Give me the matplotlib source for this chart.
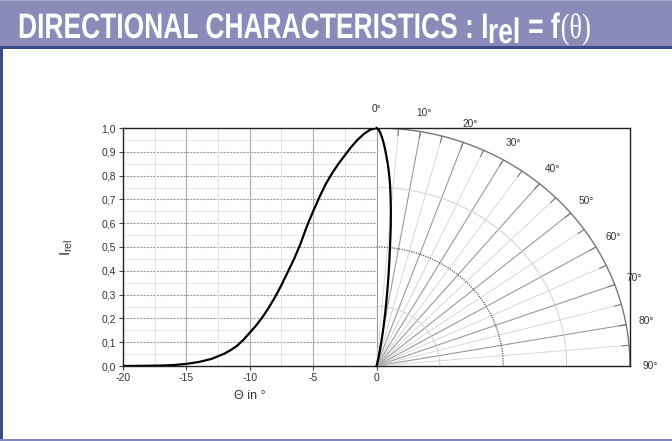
import matplotlib
matplotlib.use("Agg")
import matplotlib.pyplot as plt
import numpy as np
from matplotlib.patches import Rectangle
from matplotlib.patheffects import AbstractPathEffect
from matplotlib.transforms import Affine2D

plt.rcParams['font.family'] = ['Liberation Sans', 'DejaVu Sans']
plt.rcParams['mathtext.fontset'] = 'custom'
plt.rcParams['mathtext.rm'] = 'Liberation Sans'
plt.rcParams['mathtext.it'] = 'Liberation Sans:italic'

# ---------------- data ----------------
theta_deg = [-20, -18, -17, -16, -15, -14, -13, -12, -11.5, -11, -10.5, -10, -9.5, -9,
             -8.5, -8, -7.5, -7, -6.5, -6, -5.5, -5, -4.5, -4, -3.5, -3, -2.5, -2,
             -1.5, -1, -0.5, 0]
i_rel = [0.0, 0.001, 0.002, 0.004, 0.009, 0.017, 0.03, 0.052, 0.067, 0.085, 0.11, 0.14,
         0.17, 0.205, 0.245, 0.29, 0.34, 0.395, 0.45, 0.513, 0.586, 0.65, 0.71, 0.765,
         0.81, 0.85, 0.885, 0.92, 0.95, 0.975, 0.993, 1.0]

y_ticks = [0.0, 0.1, 0.2, 0.3, 0.4, 0.5, 0.6, 0.7, 0.8, 0.9, 1.0]
y_tick_labels = ['0,0', '0,1', '0,2', '0,3', '0,4', '0,5', '0,6', '0,7', '0,8', '0,9', '1,0']
y_minor = [0.05, 0.15, 0.25, 0.35, 0.45, 0.55, 0.65, 0.75, 0.85, 0.95]
x_ticks = [-20, -15, -10, -5, 0]
x_tick_labels = ['-20', '-15', '-10', '-5', '0']
x_minor = [-17.5, -12.5, -7.5, -2.5]
angle_labels = [0, 10, 20, 30, 40, 50, 60, 70, 80, 90]
radial_angles = [5, 10, 15, 20, 25, 30, 35, 40, 45, 50, 55, 60, 65, 70, 75, 80, 85]
arc_radii_light = [0.25, 0.75]
arc_radius_mid = 0.5

title_main = "DIRECTIONAL CHARACTERISTICS : I"
title_sub = "rel"
title_eq = "= f"
title_arg = "(θ)"
x_label = "Θ in °"
y_label = r"$\mathrm{I}_{\mathrm{rel}}$"

# ---------------- figure ----------------
W, H = 672, 441
fig = plt.figure(figsize=(W / 100, H / 100), dpi=100)
fig.patch.set_facecolor('white')


def frect(px, py, pw, ph, color):
    fig.add_artist(Rectangle((px / W, 1 - (py + ph) / H), pw / W, ph / H,
                             transform=fig.transFigure, facecolor=color,
                             edgecolor='none', zorder=0))


frect(0, 0, W, 47, '#8b8bb9')
frect(0, 0, W, 1, '#a9a9cc')
frect(0, 46.5, W, 2.5, '#3b4a8b')
frect(0, 47, 3, H - 47, '#3b4a8b')
frect(0, 438.5, W, 2.5, '#7f86bd')

# ---------------- axes ----------------
ax = fig.add_axes([123 / W, 75 / H, 507 / W, 238 / H])
ax.set_xlim(-20, 20)
ax.set_ylim(0, 1)
for s in ax.spines.values():
    s.set_color('#222222')
    s.set_linewidth(1.0)
ax.set_xticks(x_ticks, x_tick_labels)
ax.set_yticks(y_ticks, y_tick_labels)
ax.tick_params(direction='out', length=3, width=0.8, color='#444444',
               labelsize=7.5, labelcolor='#333333', pad=2)

# cartesian grid (left half only)
ax.hlines(y_minor, -20, 0, color='#e3e3e3', lw=0.6, zorder=1)
ax.hlines(y_ticks[1:-1], -20, 0, color='#9c9c9c', lw=0.8, linestyles=(0, (2, 1)), zorder=1)
ax.vlines(x_minor, 0, 1, color='#dedede', lw=0.6, zorder=1)
ax.vlines(x_ticks[1:-1], 0, 1, color='#acacac', lw=0.8, zorder=1)
ax.vlines([0], 0, 1, color='#999999', lw=0.8, zorder=1)

# polar grid (right half; x scaled by 20)
for a in radial_angles:
    t = np.radians(a)
    dark = (a % 10 == 0)
    ax.plot([0, 20 * np.sin(t)], [0, np.cos(t)],
            color='#9a9a9a' if dark else '#d2d2d2', lw=0.8 if dark else 0.6, zorder=1)
phi = np.linspace(0, np.pi / 2, 300)
for r in arc_radii_light:
    ax.plot(20 * r * np.sin(phi), r * np.cos(phi), color='#d0d0d0', lw=0.7, zorder=1)
ax.plot(20 * arc_radius_mid * np.sin(phi), arc_radius_mid * np.cos(phi),
        color='#555555', lw=0.9, ls=(0, (1, 1)), zorder=1)
ax.plot(20 * np.sin(phi), np.cos(phi), color='#777777', lw=1.0, zorder=2)
for a in radial_angles:
    t = np.radians(a)
    ax.plot([20 * 0.972 * np.sin(t), 20 * np.sin(t)], [0.972 * np.cos(t), np.cos(t)],
            color='#777777', lw=0.8, zorder=2)

for a in angle_labels:
    t = np.radians(a)
    ax.text(20 * 1.08 * np.sin(t), 1.08 * np.cos(t), f"{a}°", ha='center', va='center',
            fontsize=7.3, color='#333333', clip_on=False)

# curves
ax.plot(theta_deg, i_rel, color='black', lw=1.6, zorder=4, solid_joinstyle='round')
th = np.radians(-np.array(theta_deg))
rr = np.array(i_rel)
ax.plot(20 * rr * np.sin(th), rr * np.cos(th), color='black', lw=1.6, zorder=4,
        solid_joinstyle='round', clip_on=False)

# labels
ax.text(-10, -0.126, x_label, ha='center', va='center', fontsize=9, color='#333333')
ax.text(-24.4, 0.5, y_label, ha='center', va='center', rotation=90, fontsize=11,
        color='#333333')


# ---------------- title (bold text, stretched vertically) ----------------
class StretchY(AbstractPathEffect):
    def __init__(self, sy, y0):
        super().__init__()
        self.sy = sy
        self.y0 = y0

    def draw_path(self, renderer, gc, tpath, affine, rgbFace=None):
        aff = affine + Affine2D().translate(0, -self.y0).scale(1, self.sy).translate(0, self.y0)
        renderer.draw_path(gc, tpath, aff, rgbFace)


fs0 = 25.5
x0, x_end_target, base = 18.0, 592.0, 38.0
pieces = [
    (title_main, 0, dict(weight='bold', family='Liberation Sans'), 0.04),
    (title_sub, 5, dict(weight='bold', family='Liberation Sans'), 0.30),
    (title_eq, 0, dict(weight='bold', family='Liberation Sans'), 0.03),
    (title_arg, 0, dict(weight='normal', family='Liberation Serif'), 0.0),
]
renderer = fig.canvas.get_renderer()


def layout(fs):
    em = fs * 100 / 72
    out = []
    x = x0
    for s, dy, kw, gap in pieces:
        t = fig.text(x / W, 1 - (base + dy) / H, s, ha='left', va='baseline', fontsize=fs,
                     color='white', **kw)
        w = t.get_window_extent(renderer).width
        out.append((t, dy))
        x += w + gap * em
    return out, x - pieces[-1][3] * em


texts, x_end = layout(fs0)
sx = (x_end_target - x0) / (x_end - x0)
for t, _ in texts:
    t.remove()
texts, x_end = layout(fs0 * sx)
for t, dy in texts:
    t.set_path_effects([StretchY(1 / sx, H - (base + dy))])

fig.savefig("out.png", dpi=100)
